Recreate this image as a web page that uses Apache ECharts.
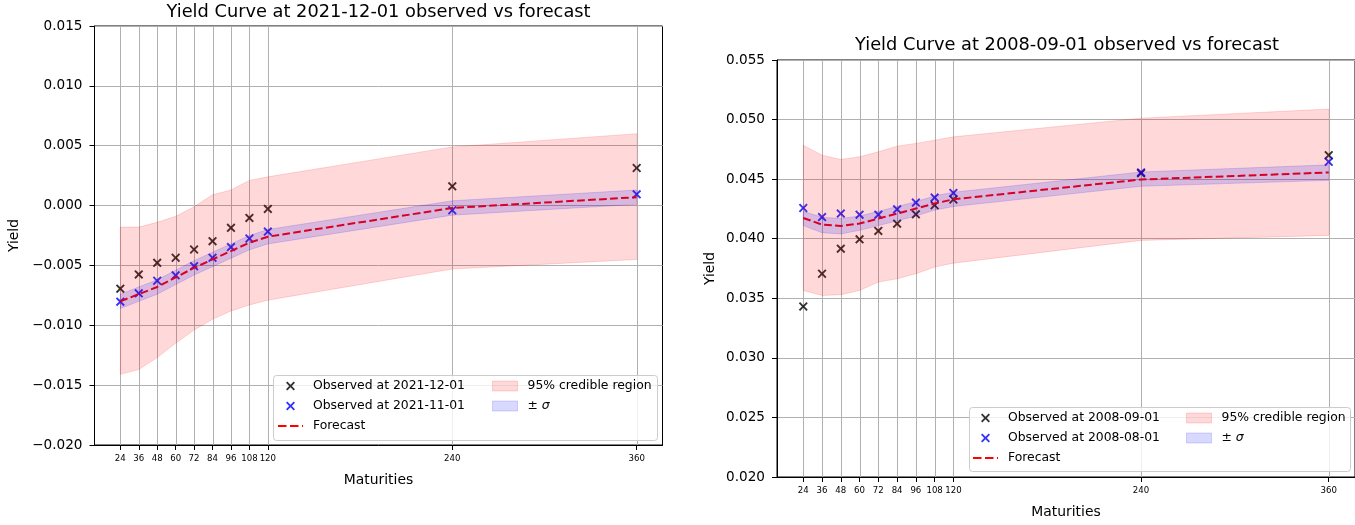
<!DOCTYPE html>
<html>
<head>
<meta charset="utf-8">
<script src="https://cdn.jsdelivr.net/npm/echarts@6/dist/echarts.min.js"></script>
<style>
html,body{margin:0;padding:0;background:#fff;}
#chart{width:1355px;height:525px;}
</style>
</head>
<body>
<div id="chart"></div>
<script>
// ---------- data ----------
const maturities = [24, 36, 48, 60, 72, 84, 96, 108, 120, 240, 360];

// Left panel: 2021-12-01
const leftTitle = 'Yield Curve at 2021-12-01 observed vs forecast';
const leftObsName = 'Observed at 2021-12-01';
const leftPrevName = 'Observed at 2021-11-01';
const leftObs  = [-0.00694, -0.00575, -0.00478, -0.00436, -0.00367, -0.00297, -0.00186, -0.00103, -0.00028, 0.00161, 0.00314];
const leftPrev = [-0.00803, -0.00733, -0.00628, -0.00583, -0.00506, -0.00436, -0.00347, -0.00275, -0.00217, -0.00039, 0.00094];
const leftFc   = [-0.0080, -0.0074, -0.0068, -0.0060, -0.0052, -0.0045, -0.0038, -0.0031, -0.0026, -0.0002, 0.0007];
const leftSigLo = [-0.0086, -0.0080, -0.0074, -0.0066, -0.0058, -0.0051, -0.0044, -0.0037, -0.0032, -0.0008, 0.0001];
const leftSigHi = [-0.0074, -0.0068, -0.0062, -0.0054, -0.0046, -0.0039, -0.0032, -0.0025, -0.0020, 0.0004, 0.0013];
const leftCiLo = [-0.0141, -0.0137, -0.0127, -0.0115, -0.0104, -0.0095, -0.0088, -0.0083, -0.0079, -0.0053, -0.0045];
const leftCiHi = [-0.0018, -0.0018, -0.0014, -0.0009, -0.0001, 0.0009, 0.0013, 0.0021, 0.0024, 0.0049, 0.0060];
const leftYTicks = {min: -0.020, max: 0.015, step: 0.005};

// Right panel: 2008-09-01
const rightTitle = 'Yield Curve at 2008-09-01 observed vs forecast';
const rightObsName = 'Observed at 2008-09-01';
const rightPrevName = 'Observed at 2008-08-01';
const rightObs  = [0.03431, 0.03706, 0.03916, 0.03995, 0.04065, 0.04126, 0.04205, 0.04281, 0.04329, 0.04550, 0.04701];
const rightPrev = [0.04258, 0.04182, 0.04211, 0.04202, 0.04202, 0.04247, 0.04303, 0.04345, 0.04384, 0.04556, 0.04645];
const rightFc   = [0.04174, 0.04118, 0.04107, 0.04127, 0.04169, 0.04211, 0.04253, 0.04295, 0.04331, 0.04497, 0.04556];
const rightSigLo = [0.0411, 0.0405, 0.0404, 0.0407, 0.0411, 0.0415, 0.0419, 0.0424, 0.0427, 0.0444, 0.0449];
const rightSigHi = [0.0423, 0.0418, 0.0417, 0.0419, 0.0423, 0.0427, 0.0431, 0.0436, 0.0439, 0.0456, 0.0462];
const rightCiLo = [0.03566, 0.03524, 0.03530, 0.03566, 0.03636, 0.03664, 0.03706, 0.03762, 0.03795, 0.03986, 0.04028];
const rightCiHi = [0.04785, 0.04701, 0.04665, 0.04687, 0.04729, 0.04777, 0.04800, 0.04827, 0.04855, 0.05012, 0.05088];
const rightYTicks = {min: 0.020, max: 0.055, step: 0.005};

const fcName = 'Forecast';
const ciName = '95% credible region';
const sigName = '± σ';

// ---------- styling ----------
const FONT = 'DejaVu Sans';
const X_PATH = 'path://M0,1.5L1.5,0L5,3.5L8.5,0L10,1.5L6.5,5L10,8.5L8.5,10L5,6.5L1.5,10L0,8.5L3.5,5Z';
const DASH_PATH = 'path://M0,0h8.5v2h-8.5zM12,0h8.5v2h-8.5zM24,0h1v2h-1z';
const PINK = 'rgba(255,0,0,0.15)';
const LAV = 'rgba(0,0,255,0.15)';
const GRIDC = '#b0b0b0';

const pairs = (ys) => maturities.map((m, i) => [m, ys[i]]);
const fmtY = (v) => {
  if (Math.abs(v) < 1e-12) return '0.000';
  return (v < 0 ? '\u2212' : '') + Math.abs(v).toFixed(3);
};

function xAxisFor(gi) {
  return {
    gridIndex: gi, type: 'value', min: 7.2, max: 376.8,
    name: 'Maturities', nameLocation: 'middle', nameGap: 28,
    nameTextStyle: {fontFamily: FONT, fontSize: 13.9, color: '#000'},
    axisLine: {show: true, onZero: false, lineStyle: {color: '#000', width: 1}},
    axisTick: {show: true, customValues: maturities, length: 5, lineStyle: {color: '#000', width: 1}},
    axisLabel: {customValues: maturities, fontFamily: FONT, fontSize: 8.6, color: '#000', margin: 9, hideOverlap: false},
    splitLine: {show: false}
  };
}
function yAxisFor(gi, t, gap) {
  return {
    gridIndex: gi, type: 'value', min: t.min, max: t.max, interval: t.step,
    name: 'Yield', nameLocation: 'middle', nameGap: gap,
    nameTextStyle: {fontFamily: FONT, fontSize: 13.9, color: '#000'},
    axisLine: {show: true, onZero: false, lineStyle: {color: '#000', width: 1}},
    axisTick: {show: true, length: 5, lineStyle: {color: '#000', width: 1}},
    axisLabel: {fontFamily: FONT, fontSize: 13.6, color: '#000', margin: 12, formatter: fmtY},
    splitLine: {show: true, lineStyle: {color: GRIDC, width: 1}}
  };
}

// vertical grid lines at each maturity tick (behind everything)
function vGridSeries(gi) {
  return {
    type: 'custom', name: '_vgrid' + gi, xAxisIndex: gi, yAxisIndex: gi, z: 1, silent: true,
    data: maturities.map(m => [m]),
    encode: {x: 0},
    renderItem: function (params, api) {
      const cs = params.coordSys;
      const p = api.coord([api.value(0), 0]);
      const x = Math.round(p[0]) + 0.5;
      return {type: 'line', shape: {x1: x, y1: cs.y, x2: x, y2: cs.y + cs.height},
              style: {stroke: GRIDC, lineWidth: 1}};
    }
  };
}

function bandSeries(gi, name, lo, hi, color, z) {
  return {
    type: 'custom', name: name, xAxisIndex: gi, yAxisIndex: gi, z: z, silent: true, clip: true,
    data: maturities.map((m, i) => [m, lo[i], hi[i]]),
    encode: {x: 0, y: [1, 2]},
    itemStyle: {color: color},
    renderItem: function (params, api) {
      if (params.dataIndex !== 0) return null;
      const pts = [];
      for (let i = 0; i < maturities.length; i++) pts.push(api.coord([maturities[i], hi[i]]));
      for (let i = maturities.length - 1; i >= 0; i--) pts.push(api.coord([maturities[i], lo[i]]));
      return {type: 'polygon', shape: {points: pts}, style: {fill: color, stroke: color, lineWidth: 1}};
    }
  };
}

function panelSeries(gi, d) {
  const base = {xAxisIndex: gi, yAxisIndex: gi};
  return [
    vGridSeries(gi),
    Object.assign({}, base, {
      type: 'scatter', name: d.obsName, data: pairs(d.obs), symbol: X_PATH, symbolSize: 9,
      itemStyle: {color: '#000'}, z: 3
    }),
    Object.assign({}, base, {
      type: 'scatter', name: d.prevName, data: pairs(d.prev), symbol: X_PATH, symbolSize: 9,
      itemStyle: {color: '#0000ff'}, z: 3
    }),
    bandSeries(gi, ciName, d.ciLo, d.ciHi, PINK, 4),
    Object.assign({}, base, {
      type: 'line', name: fcName, data: pairs(d.fc), symbol: 'none',
      lineStyle: {color: '#ff0000', width: 2, type: [7.7, 3.3]}, itemStyle: {color: '#ff0000'}, z: 5
    }),
    bandSeries(gi, sigName, d.sigLo, d.sigHi, LAV, 6)
  ];
}

const legendText = {fontFamily: FONT, fontSize: 12.4, color: '#000', lineHeight: 14, padding: [0, 0, 0, 5],
  rich: {i: {fontFamily: FONT, fontStyle: 'italic', fontSize: 12.4, lineHeight: 14}}};
const legendFmt = (n) => n === sigName ? '± {i|σ}' : n;

function legendsFor(col1Left, col2Left, top, obsName, prevName) {
  return [
    {
      orient: 'vertical', left: col1Left, top: top, itemWidth: 25, itemHeight: 9, itemGap: 6, padding: 0,
      selectedMode: false, z: 11, textStyle: legendText, formatter: legendFmt,
      data: [{name: obsName, icon: X_PATH}, {name: prevName, icon: X_PATH},
             {name: fcName, icon: DASH_PATH, itemStyle: {color: '#ff0000'}}]
    },
    {
      orient: 'vertical', left: col2Left, top: top, itemWidth: 25, itemHeight: 10, itemGap: 6, padding: 0,
      selectedMode: false, z: 11, textStyle: legendText, formatter: legendFmt,
      data: [
        {name: ciName, icon: 'rect', itemStyle: {color: PINK, borderColor: PINK, borderWidth: 1}},
        {name: sigName, icon: 'rect', itemStyle: {color: LAV, borderColor: LAV, borderWidth: 1}}
      ]
    }
  ];
}

const option = {
  animation: false,
  backgroundColor: '#fff',
  title: [
    {text: leftTitle, left: 378.5, top: 3, textAlign: 'center', padding: 0,
     textStyle: {fontFamily: FONT, fontSize: 17.8, fontWeight: 'normal', color: '#000'}},
    {text: rightTitle, left: 1067, top: 36, textAlign: 'center', padding: 0,
     textStyle: {fontFamily: FONT, fontSize: 17.8, fontWeight: 'normal', color: '#000'}}
  ],
  grid: [
    {left: 94.5, top: 26, width: 568, height: 419, show: true, borderColor: '#000', borderWidth: 1, containLabel: false},
    {left: 777, top: 60, width: 580, height: 417, show: true, borderColor: '#000', borderWidth: 1, containLabel: false}
  ],
  xAxis: [xAxisFor(0), xAxisFor(1)],
  yAxis: [yAxisFor(0, leftYTicks, 73), yAxisFor(1, rightYTicks, 60)],
  legend: [].concat(
    legendsFor(278, 492, 379, leftObsName, leftPrevName),
    legendsFor(973, 1186, 411, rightObsName, rightPrevName)
  ),
  graphic: [
    {type: 'rect', z: 10, silent: true, shape: {x: 273.5, y: 375.5, width: 384, height: 65, r: 3},
     style: {fill: 'rgba(255,255,255,0.8)', stroke: '#cccccc', lineWidth: 1}},
    {type: 'rect', z: 10, silent: true, shape: {x: 969.5, y: 407.5, width: 381, height: 64, r: 3},
     style: {fill: 'rgba(255,255,255,0.8)', stroke: '#cccccc', lineWidth: 1}}
  ],
  series: [].concat(
    panelSeries(0, {obs: leftObs, prev: leftPrev, fc: leftFc, sigLo: leftSigLo, sigHi: leftSigHi,
      ciLo: leftCiLo, ciHi: leftCiHi, obsName: leftObsName, prevName: leftPrevName}),
    panelSeries(1, {obs: rightObs, prev: rightPrev, fc: rightFc, sigLo: rightSigLo, sigHi: rightSigHi,
      ciLo: rightCiLo, ciHi: rightCiHi, obsName: rightObsName, prevName: rightPrevName})
  )
};

const chart = echarts.init(document.getElementById('chart'), null, {renderer: 'canvas'});
chart.setOption(option);
</script>
</body>
</html>
